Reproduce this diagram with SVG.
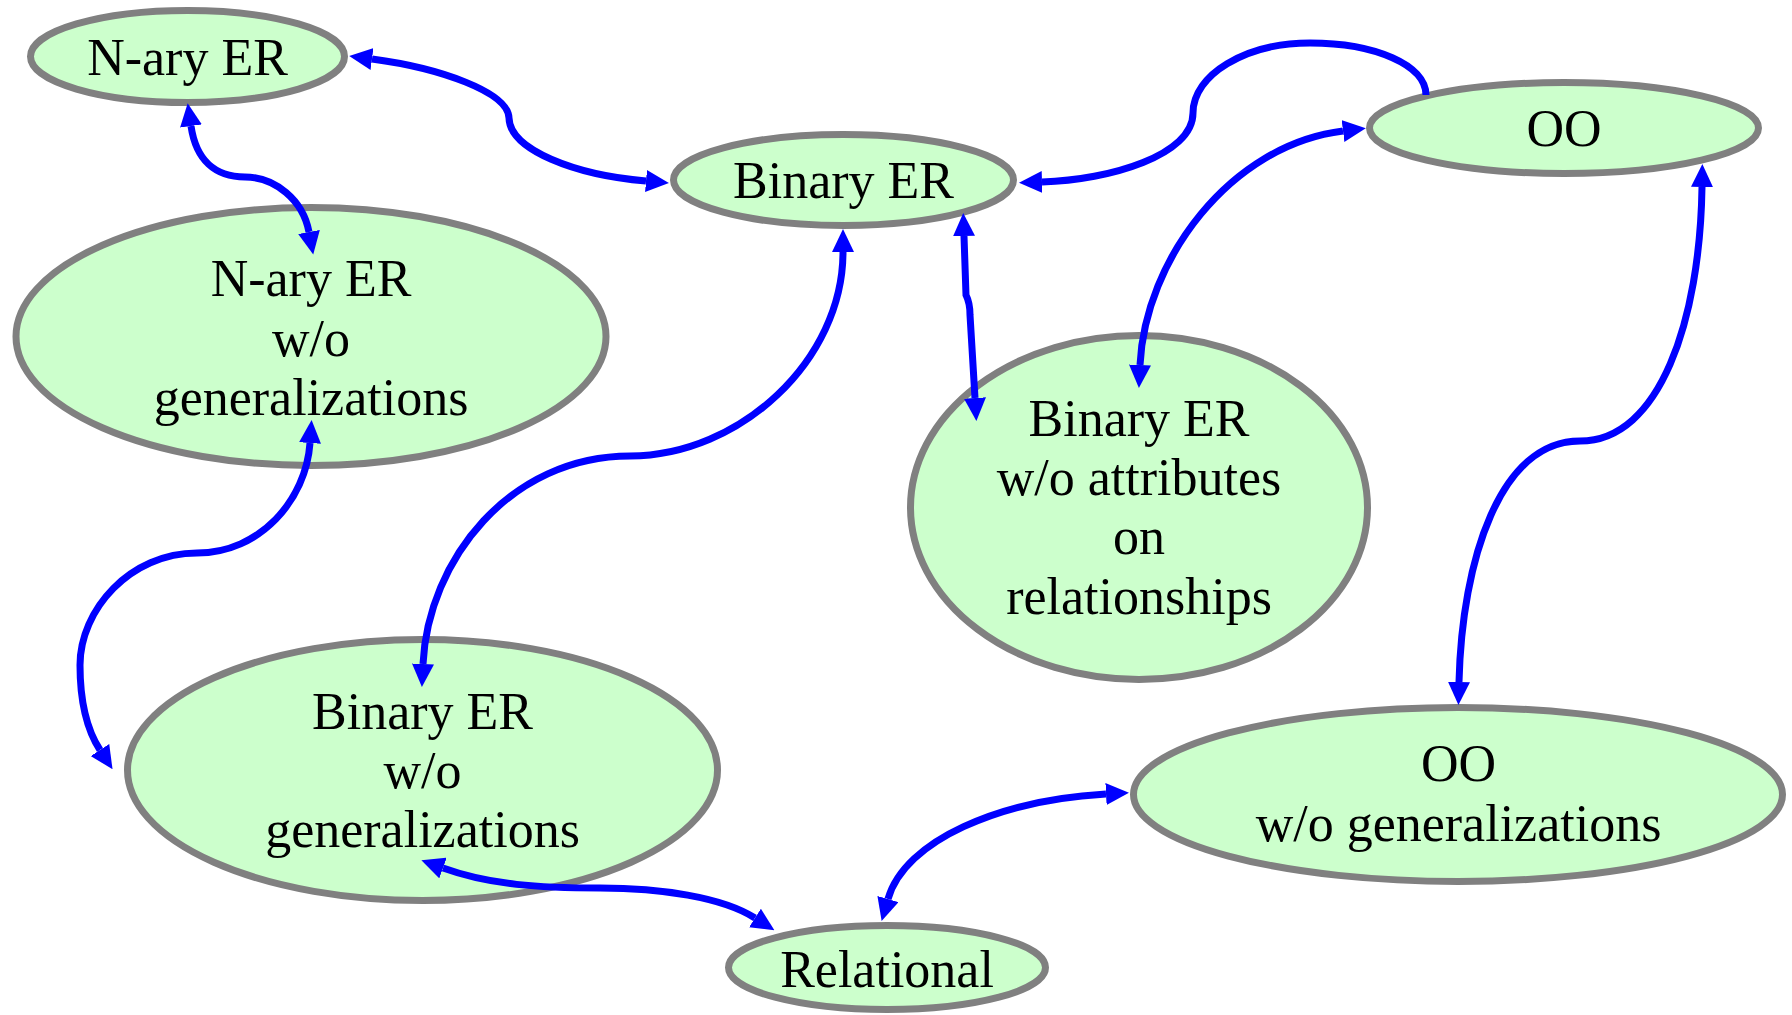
<svg xmlns="http://www.w3.org/2000/svg" width="1792" height="1015" viewBox="0 0 1792 1015">
<style>
.node ellipse{fill:#ccffcc;stroke:#808080;stroke-width:7}
.node text{font-family:"Liberation Serif","Times New Roman",serif;font-size:52px;fill:#000;text-anchor:middle}
.edge{fill:none;stroke:#0000ff;stroke-width:7}
.both{marker-start:url(#ah);marker-end:url(#ah)}
.one{marker-end:url(#ah)}
</style>
<defs>
<marker id="ah" markerUnits="userSpaceOnUse" markerWidth="23" markerHeight="22" refX="0" refY="11" orient="auto-start-reverse" viewBox="0 0 23 22">
<path d="M0,0 L23,11 L0,22 z" fill="#0000ff"/>
</marker>
</defs>
<rect width="1792" height="1015" fill="#ffffff"/>
<g id="n-ary-er" class="node">
<ellipse cx="187.5" cy="56.5" rx="157" ry="46"/>
<text x="187.5" y="75">N-ary ER</text>
</g>
<g id="binary-er" class="node">
<ellipse cx="843.5" cy="180" rx="170" ry="45.5"/>
<text x="843.5" y="198">Binary ER</text>
</g>
<g id="oo" class="node">
<ellipse cx="1564" cy="128" rx="194.5" ry="45.5"/>
<text x="1564" y="146">OO</text>
</g>
<g id="n-ary-er-wo-gen" class="node">
<ellipse cx="311" cy="336.5" rx="295" ry="129"/>
<text x="311" y="296">N-ary ER</text>
<text x="311" y="355.5">w/o</text>
<text x="311" y="415">generalizations</text>
</g>
<g id="binary-er-wo-attr" class="node">
<ellipse cx="1139" cy="507.5" rx="228.5" ry="172"/>
<text x="1139" y="436">Binary ER</text>
<text x="1139" y="495">w/o attributes</text>
<text x="1139" y="554">on</text>
<text x="1139" y="613.5">relationships</text>
</g>
<g id="binary-er-wo-gen" class="node">
<ellipse cx="422.5" cy="770" rx="295" ry="130.5"/>
<text x="422.5" y="728.5">Binary ER</text>
<text x="422.5" y="788">w/o</text>
<text x="422.5" y="847">generalizations</text>
</g>
<g id="oo-wo-gen" class="node">
<ellipse cx="1458" cy="794.5" rx="324.5" ry="87"/>
<text x="1458.5" y="781">OO</text>
<text x="1458.5" y="841">w/o generalizations</text>
</g>
<g id="relational" class="node">
<ellipse cx="887" cy="967.5" rx="158.5" ry="42"/>
<text x="887" y="987">Relational</text>
</g>
<g id="connectors">
<path class="edge both" d="M372,59 C440,68 508,92 509,118 C510,150 575,175 646,181"/>
<path class="edge both" d="M191,126 C196,160 215,177 245,177 C275,177 303,200 309,232"/>
<path class="edge both" d="M310,443 C306,500 260,553 197,553 C130,553 80,610 80,665 C80,700 87,730 100,750"/>
<path class="edge both" d="M843,252 C843,360 740,456 630,456 C510,456 428,560 423,664"/>
<path class="edge both" d="M964,236 L966,295 Q970,303 970,315 L975,398"/>
<path class="edge one" d="M1426,95 C1426,65 1375,43 1310,43 C1245,43 1193,75 1193,113 C1193,155 1110,180 1042,182"/>
<path class="edge both" d="M1343,131 C1230,145 1145,260 1140,365"/>
<path class="edge both" d="M1702,187 C1700,320 1660,441 1580,441 C1500,441 1462,560 1459,682"/>
<path class="edge both" d="M443,868 C490,885 540,888 600,888 C660,888 722,897 755,918"/>
<path class="edge both" d="M888,899 C905,840 1000,800 1106,794"/>
</g>
</svg>
